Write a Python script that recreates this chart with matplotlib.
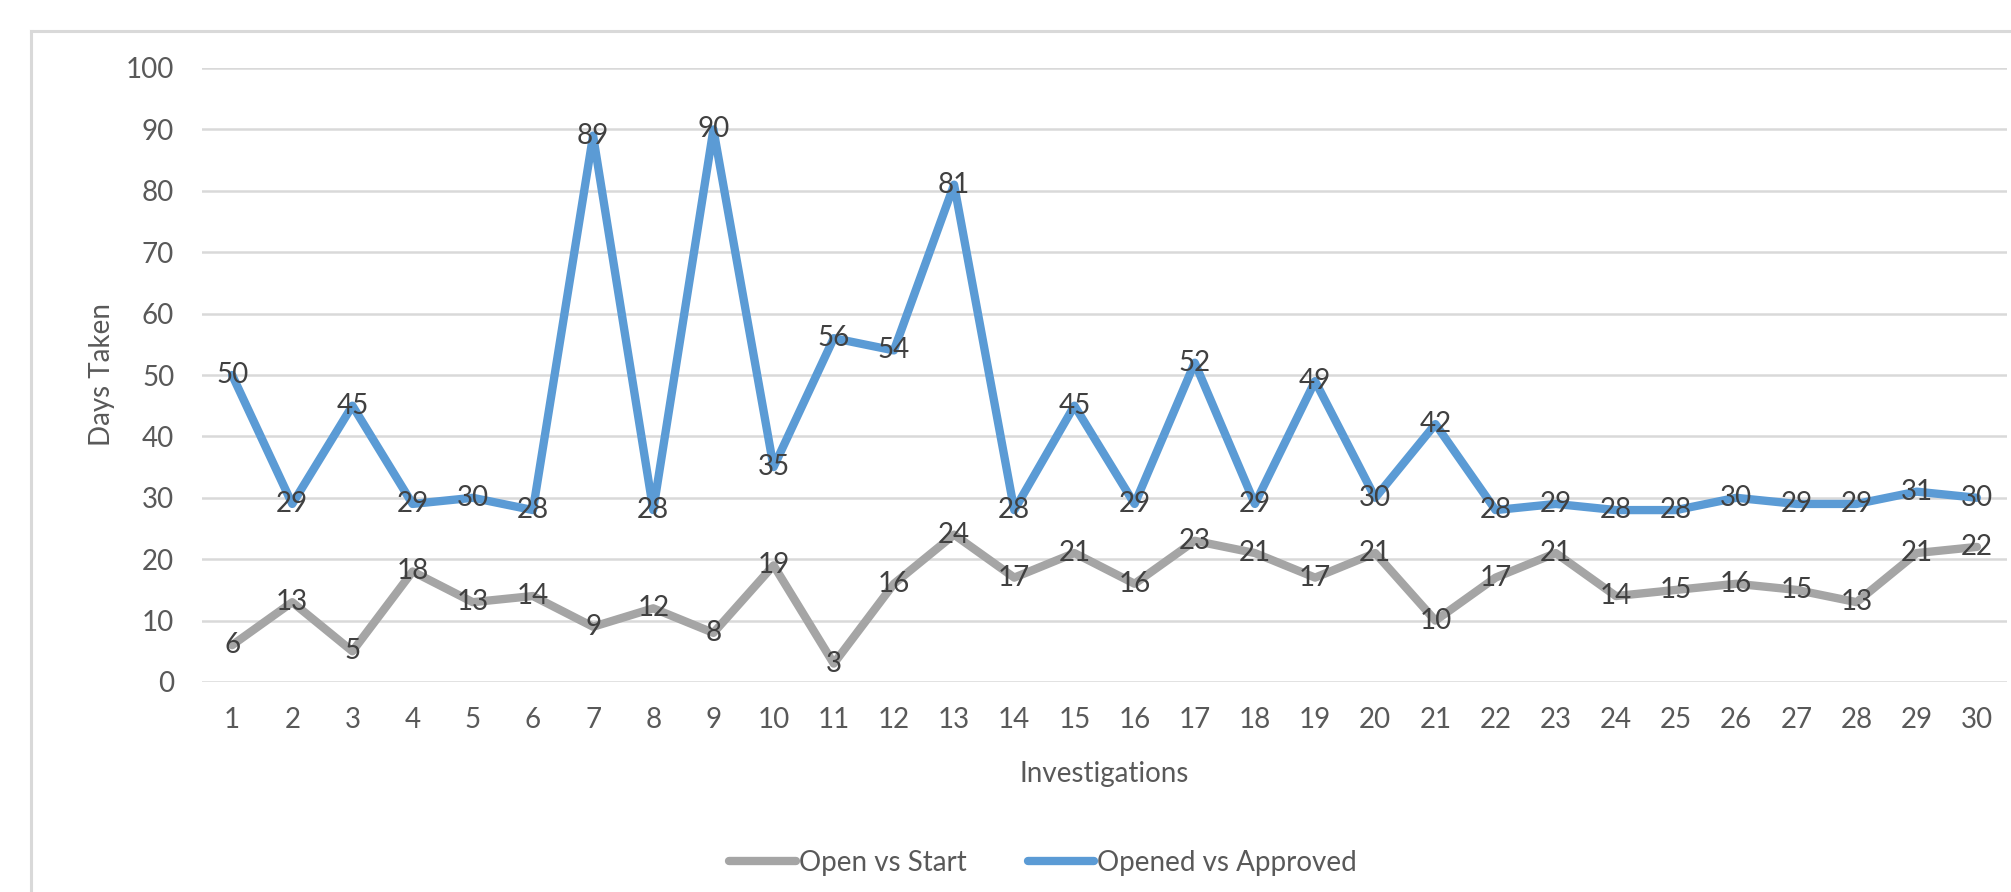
import matplotlib.pyplot as plt
from matplotlib.lines import Line2D

# investigation numbers and days taken per stage
investigations = list(range(1, 31))
open_vs_start = [6, 13, 5, 18, 13, 14, 9, 12, 8, 19, 3, 16, 24, 17, 21,
                 16, 23, 21, 17, 21, 10, 17, 21, 14, 15, 16, 15, 13, 21, 22]
opened_vs_approved = [50, 29, 45, 29, 30, 28, 89, 28, 90, 35, 56, 54, 81, 28, 45,
                      29, 52, 29, 49, 30, 42, 28, 29, 28, 28, 30, 29, 29, 31, 30]

plt.rcParams['font.family'] = ['Lato', 'DejaVu Sans']

W, H = 2011, 892
fig = plt.figure(figsize=(W / 100, H / 100), dpi=100)
ax = fig.add_axes([202 / W, 1 - 682 / H, 1805 / W, 614 / H])

grey = '#A5A5A5'
blue = '#5B9BD5'
txt = '#595959'
lab = '#404040'

ax.plot(investigations, open_vs_start, color=grey, lw=6,
        solid_joinstyle='round', solid_capstyle='round', label='Open vs Start', zorder=3)
ax.plot(investigations, opened_vs_approved, color=blue, lw=6,
        solid_joinstyle='round', solid_capstyle='round', label='Opened vs Approved', zorder=3)

# value labels sit on the points
for x, y in zip(investigations, open_vs_start):
    ax.text(x, y, str(y), ha='center', va='center', fontsize=20, color=lab, zorder=4)
for x, y in zip(investigations, opened_vs_approved):
    ax.text(x, y, str(y), ha='center', va='center', fontsize=20, color=lab, zorder=4)

ax.set_xlim(0.5, 30.5)
ax.set_ylim(0, 100)
ax.set_yticks(range(0, 101, 10))
ax.set_xticks(investigations)
ax.grid(axis='y', color='#D9D9D9', lw=1.8, zorder=0)
for s in ax.spines.values():
    s.set_visible(False)
ax.tick_params(axis='both', length=0, labelsize=20, labelcolor=txt)
ax.tick_params(axis='y', pad=20)
ax.tick_params(axis='x', pad=18)

ax.set_ylabel('Days Taken', fontsize=20, color=txt, labelpad=8)
ax.set_xlabel('Investigations', fontsize=20, color=txt, labelpad=20)

leg = ax.legend(loc='center', bbox_to_anchor=(1043 / W, (H - 863) / H),
                bbox_transform=fig.transFigure, ncol=2, frameon=False,
                fontsize=20, handlelength=2.4, handletextpad=0.1,
                columnspacing=2.2, labelcolor=txt)

# outer chart border
fig.add_artist(Line2D([31 / W, 1.0], [1 - 31 / H, 1 - 31 / H], color='#D9D9D9', lw=2.2))
fig.add_artist(Line2D([31 / W, 31 / W], [0.0, 1 - 31 / H], color='#D9D9D9', lw=2.2))

fig.savefig('out.png', dpi=100)
